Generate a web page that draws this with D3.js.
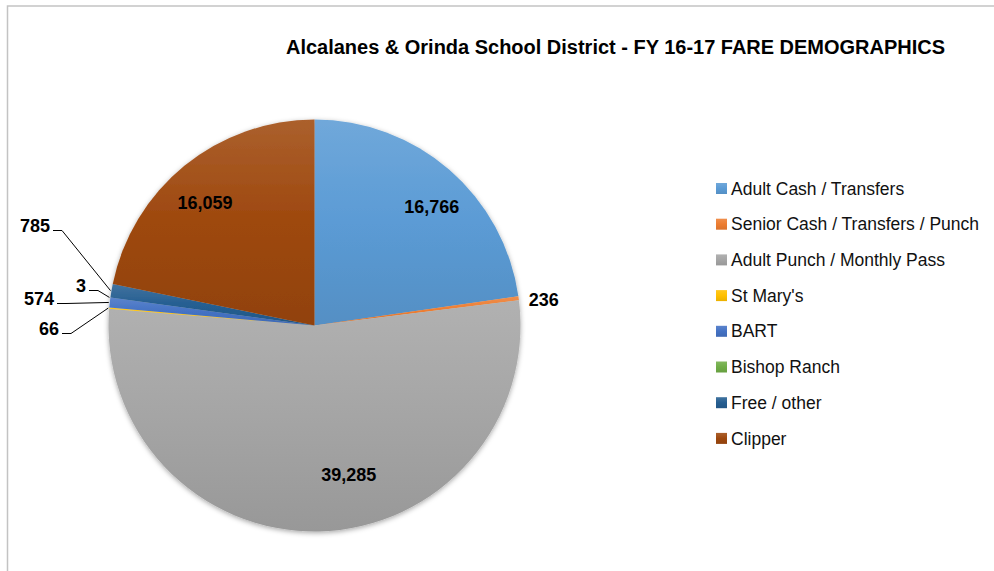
<!DOCTYPE html>
<html>
<head>
<meta charset="utf-8">
<script src="https://cdn.jsdelivr.net/npm/d3@7"></script>
<style>
  html, body { margin: 0; padding: 0; background: #fff; }
  svg { display: block; font-family: "Liberation Sans", Arial, sans-serif; }
</style>
</head>
<body>
<svg id="chart" width="994" height="571"></svg>
<script>
// ---- data ----
const title = "Alcalanes & Orinda School District - FY 16-17 FARE DEMOGRAPHICS";
const categories = ["Adult Cash / Transfers", "Senior Cash / Transfers / Punch", "Adult Punch / Monthly Pass", "St Mary's", "BART", "Bishop Ranch", "Free / other", "Clipper"];
const values = [16766, 236, 39285, 66, 574, 3, 785, 16059];
const colors = ["#5b9bd5", "#ed7d31", "#a5a5a5", "#ffc000", "#4472c4", "#70ad47", "#255e91", "#9e480e"];

// ---- layout ----
const W = 994, H = 571;
const cx = 314.5, cy = 325.5, R = 206;
const svg = d3.select("#chart");
const defs = svg.append("defs");

// frame
svg.append("path").attr("d", `M7.5,${H + 5} V6 H${W + 5}`)
  .attr("fill", "none").attr("stroke", "#c3c3c3").attr("stroke-width", 1.5);

// title
svg.append("text").attr("x", 286).attr("y", 54)
  .attr("font-size", 20).attr("font-weight", "bold").attr("fill", "#000")
  .attr("textLength", 659).attr("lengthAdjust", "spacingAndGlyphs")
  .text(title);

// gradients
colors.forEach((c, i) => {
  const g = defs.append("linearGradient").attr("id", "grad" + i)
    .attr("x1", 0).attr("y1", 0).attr("x2", 0).attr("y2", 1);
  g.append("stop").attr("offset", 0).attr("stop-color", d3.interpolateRgb(c, "#ffffff")(0.13));
  g.append("stop").attr("offset", 0.5).attr("stop-color", c);
  g.append("stop").attr("offset", 1).attr("stop-color", d3.interpolateRgb(c, "#000000")(0.08));
});
const f = defs.append("filter").attr("id", "shadow")
  .attr("x", "-10%").attr("y", "-10%").attr("width", "120%").attr("height", "120%");
f.append("feDropShadow").attr("dx", 0).attr("dy", 1.5).attr("stdDeviation", 2.5)
  .attr("flood-color", "#000").attr("flood-opacity", 0.35);

const data = categories.map((c, i) => ({ name: c, value: values[i], i }));
const pie = d3.pie().value(d => d.value).sort(null);
const arcs = pie(data);
const arc = d3.arc().innerRadius(0).outerRadius(R);

const g = svg.append("g").attr("transform", `translate(${cx},${cy})`);
const slices = g.append("g").attr("filter", "url(#shadow)");
slices.selectAll("path").data(arcs).join("path")
  .attr("d", arc)
  .attr("fill", d => `url(#grad${d.data.i})`);

const fmt = d3.format(",");
const labelFont = 18;

// inside labels
const insideShift = {
  "Adult Cash / Transfers": [12, 3],
  "Adult Punch / Monthly Pass": [31, -11.5],
  "Clipper": [-8, 2]
};
const labelArc = d3.arc().innerRadius(R * 0.78).outerRadius(R * 0.78);
arcs.filter(d => insideShift[d.data.name]).forEach(d => {
  const [x, y] = labelArc.centroid(d);
  const s = insideShift[d.data.name];
  g.append("text").attr("x", x + s[0]).attr("y", y + s[1]).attr("dy", "0.35em")
    .attr("text-anchor", "middle").attr("font-size", labelFont).attr("font-weight", "bold")
    .attr("fill", "#000").text(fmt(d.value));
});

function edgePoint(d, r) {
  const a = (d.startAngle + d.endAngle) / 2;
  return [r * Math.sin(a), -r * Math.cos(a)];
}

// right-hand label (Senior)
arcs.filter(d => d.data.name === "Senior Cash / Transfers / Punch").forEach(d => {
  const [x, y] = edgePoint(d, R);
  g.append("text").attr("x", x + 10).attr("y", y + 1).attr("dy", "0.35em")
    .attr("text-anchor", "start").attr("font-size", labelFont).attr("font-weight", "bold")
    .attr("fill", "#000").text(fmt(d.value));
});

// left labels with leader lines (text right end, baseline) in page coords
const outsidePos = {
  "Free / other": [50, 232],
  "Bishop Ranch": [86, 292],
  "BART": [54, 305],
  "St Mary's": [59, 335]
};
arcs.filter(d => outsidePos[d.data.name]).forEach(d => {
  const [tx, ty] = outsidePos[d.data.name];
  const [ex, ey] = edgePoint(d, R + 1);
  const lx = tx - cx, ly = ty - cy;
  g.append("path")
    .attr("d", `M${lx + 3},${ly - 1.5} H${lx + 12} L${ex},${ey}`)
    .attr("fill", "none").attr("stroke", "#000").attr("stroke-width", 1);
  g.append("text").attr("x", lx).attr("y", ly)
    .attr("text-anchor", "end").attr("font-size", labelFont).attr("font-weight", "bold")
    .attr("fill", "#000").text(fmt(d.value));
});

// legend
const legend = svg.append("g");
const ly0 = 188.5, lstep = 35.7;
categories.forEach((c, i) => {
  const y = ly0 + i * lstep;
  legend.append("rect").attr("x", 716).attr("y", y - 5.5).attr("width", 11).attr("height", 11)
    .attr("fill", `url(#grad${i})`);
  legend.append("text").attr("x", 731).attr("y", y).attr("dy", "0.35em")
    .attr("font-size", 17.5).attr("fill", "#111").text(c);
});
</script>
</body>
</html>
